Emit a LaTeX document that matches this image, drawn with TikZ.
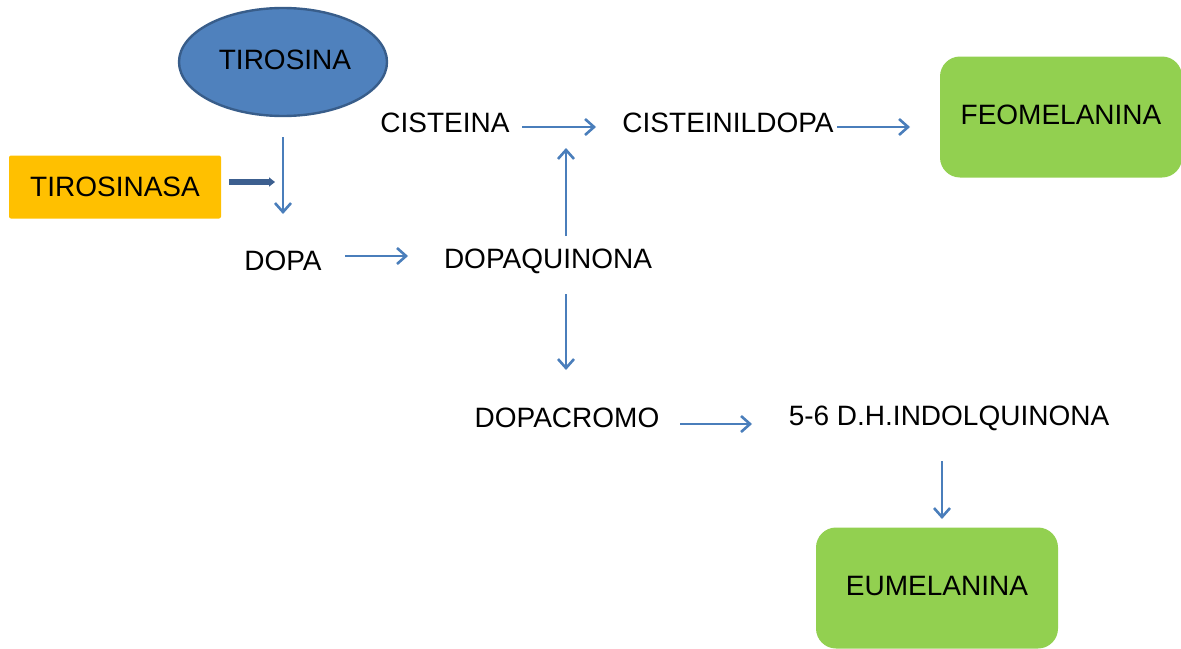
\documentclass[tikz,border=0pt]{standalone}
\usepackage{fontspec}
\setmainfont{Liberation Sans}
\usepackage{tikz}
\usetikzlibrary{arrows.meta, shapes.geometric}

\definecolor{azul}{HTML}{4F81BD}
\definecolor{azulborde}{HTML}{385D8A}
\definecolor{flecha}{HTML}{4A7EBB}
\definecolor{oscuro}{HTML}{3C5F8F}
\definecolor{naranja}{HTML}{FFC000}
\definecolor{verde}{HTML}{92D050}

\begin{document}
\begin{tikzpicture}[x=0.5pt, y=-0.5pt,
  every node/.style={font=\fontsize{14}{16}\selectfont, inner sep=0pt},
  paso/.style={draw=flecha, line width=1.2pt, -{Straight Barb[length=4.5pt, width=8pt, line width=1.3pt]}},
  caja/.style={fill=verde, rounded corners=10pt, minimum width=121pt, minimum height=60.5pt}]
\useasboundingbox (0,0) rectangle (1181,648);
% nodes
\node[ellipse, fill=azul, draw=azulborde, line width=1.2pt, minimum width=104pt, minimum height=54pt] (tirosina) at (283,62) {};
\node (tirosinatxt) at (285,60) {TIROSINA};
\node[fill=naranja, rounded corners=1pt, minimum width=106pt, minimum height=31.5pt] (tirosinasa) at (115,187) {TIROSINASA};
\node (dopa) at (283,261) {DOPA};
\node (dopaquinona) at (548,261) {DOPAQUINONA};
\node (cisteina) at (445,123) {CISTEINA};
\node (cisteinildopa) at (728,123) {CISTEINILDOPA};
\node[caja] (feomelanina) at (1061,117) {\raisebox{2pt}{FEOMELANINA}\hspace{5pt}};
\node (dopacromo) at (567,418) {DOPACROMO};
\node (indolquinona) at (949,418) {5-6 D.H.INDOLQUINONA};
\node[caja] (eumelanina) at (937,588) {\raisebox{2pt}{EUMELANINA}\hspace{5pt}};
% free ends
\coordinate (a1) at (283,137); \coordinate (a2) at (283,214);
\coordinate (e1) at (229,182); \coordinate (e2) at (275,182);
\coordinate (b1) at (345,256); \coordinate (b2) at (408,256);
\coordinate (c1) at (566,236); \coordinate (c2) at (566,148);
\coordinate (d1) at (522,127); \coordinate (d2) at (596,127);
\coordinate (f1) at (837,127); \coordinate (f2) at (910,127);
\coordinate (g1) at (566,294); \coordinate (g2) at (566,370);
\coordinate (h1) at (680,424); \coordinate (h2) at (752,424);
\coordinate (i1) at (942,461); \coordinate (i2) at (942,519);
% arrows
\draw[paso] (a1) -- (a2);
\draw[oscuro, line width=2.6pt, -{Triangle[length=3pt, width=4.5pt]}] (e1) -- (e2);
\draw[paso] (b1) -- (b2);
\draw[paso] (c1) -- (c2);
\draw[paso] (d1) -- (d2);
\draw[paso] (f1) -- (f2);
\draw[paso] (g1) -- (g2);
\draw[paso] (h1) -- (h2);
\draw[paso] (i1) -- (i2);
\end{tikzpicture}
\end{document}
